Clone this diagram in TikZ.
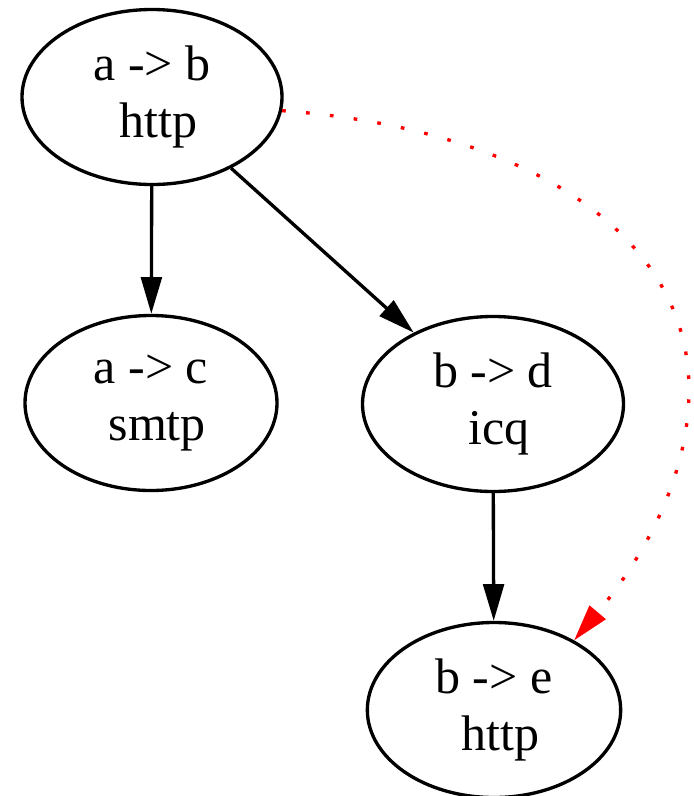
\documentclass[tikz,border=0pt]{standalone}
\usepackage{fontspec}
\setmainfont{Liberation Serif}
\usepackage{tikz}
\usetikzlibrary{shapes, arrows.meta, calc, positioning}
\tikzset{  
    flow/.style ={ellipse, draw, line width=1pt, inner sep=0pt, align=center, minimum width = 77 pt, minimum height = 52.5pt, font=\fontsize{15pt}{17.2pt}\selectfont}, % one ellipse per connection
    link/.style = {line width=1pt, -{Triangle[length=11pt, width=6.2pt]}},  
    backlink/.style = {link, red, dash pattern=on 1.1pt off 6.1pt}  
}
\begin{document}
\begin{tikzpicture}[x=0.3pt, y=-0.3pt]
    \useasboundingbox (0,0) rectangle (694,796);
    % the four connections
    \node [flow, minimum width=78pt] (ab) at (152,97) {a -> b~\\~http};
    \node [flow, minimum width=75.6pt] (ac) at (151,403) {a -> c~\\~smtp};
    \node [flow, minimum width=78.3pt] (bd) at (493,404) {b -> d~\\~icq};
    \node [flow, minimum width=76pt] (be) at (494,710) {b -> e~\\~http};
    \coordinate (turn) at (689,390);
    % edges
    \draw [link] (ab) -- (ac);
    \draw [link] (ab) -- (bd);
    \draw [link] (bd) -- (be);
    \draw [backlink] (ab.-6) .. controls (520,128) and (689,230) .. (turn)
        .. controls (689,470) and (650,550) .. (be.41);
\end{tikzpicture}
\end{document}
